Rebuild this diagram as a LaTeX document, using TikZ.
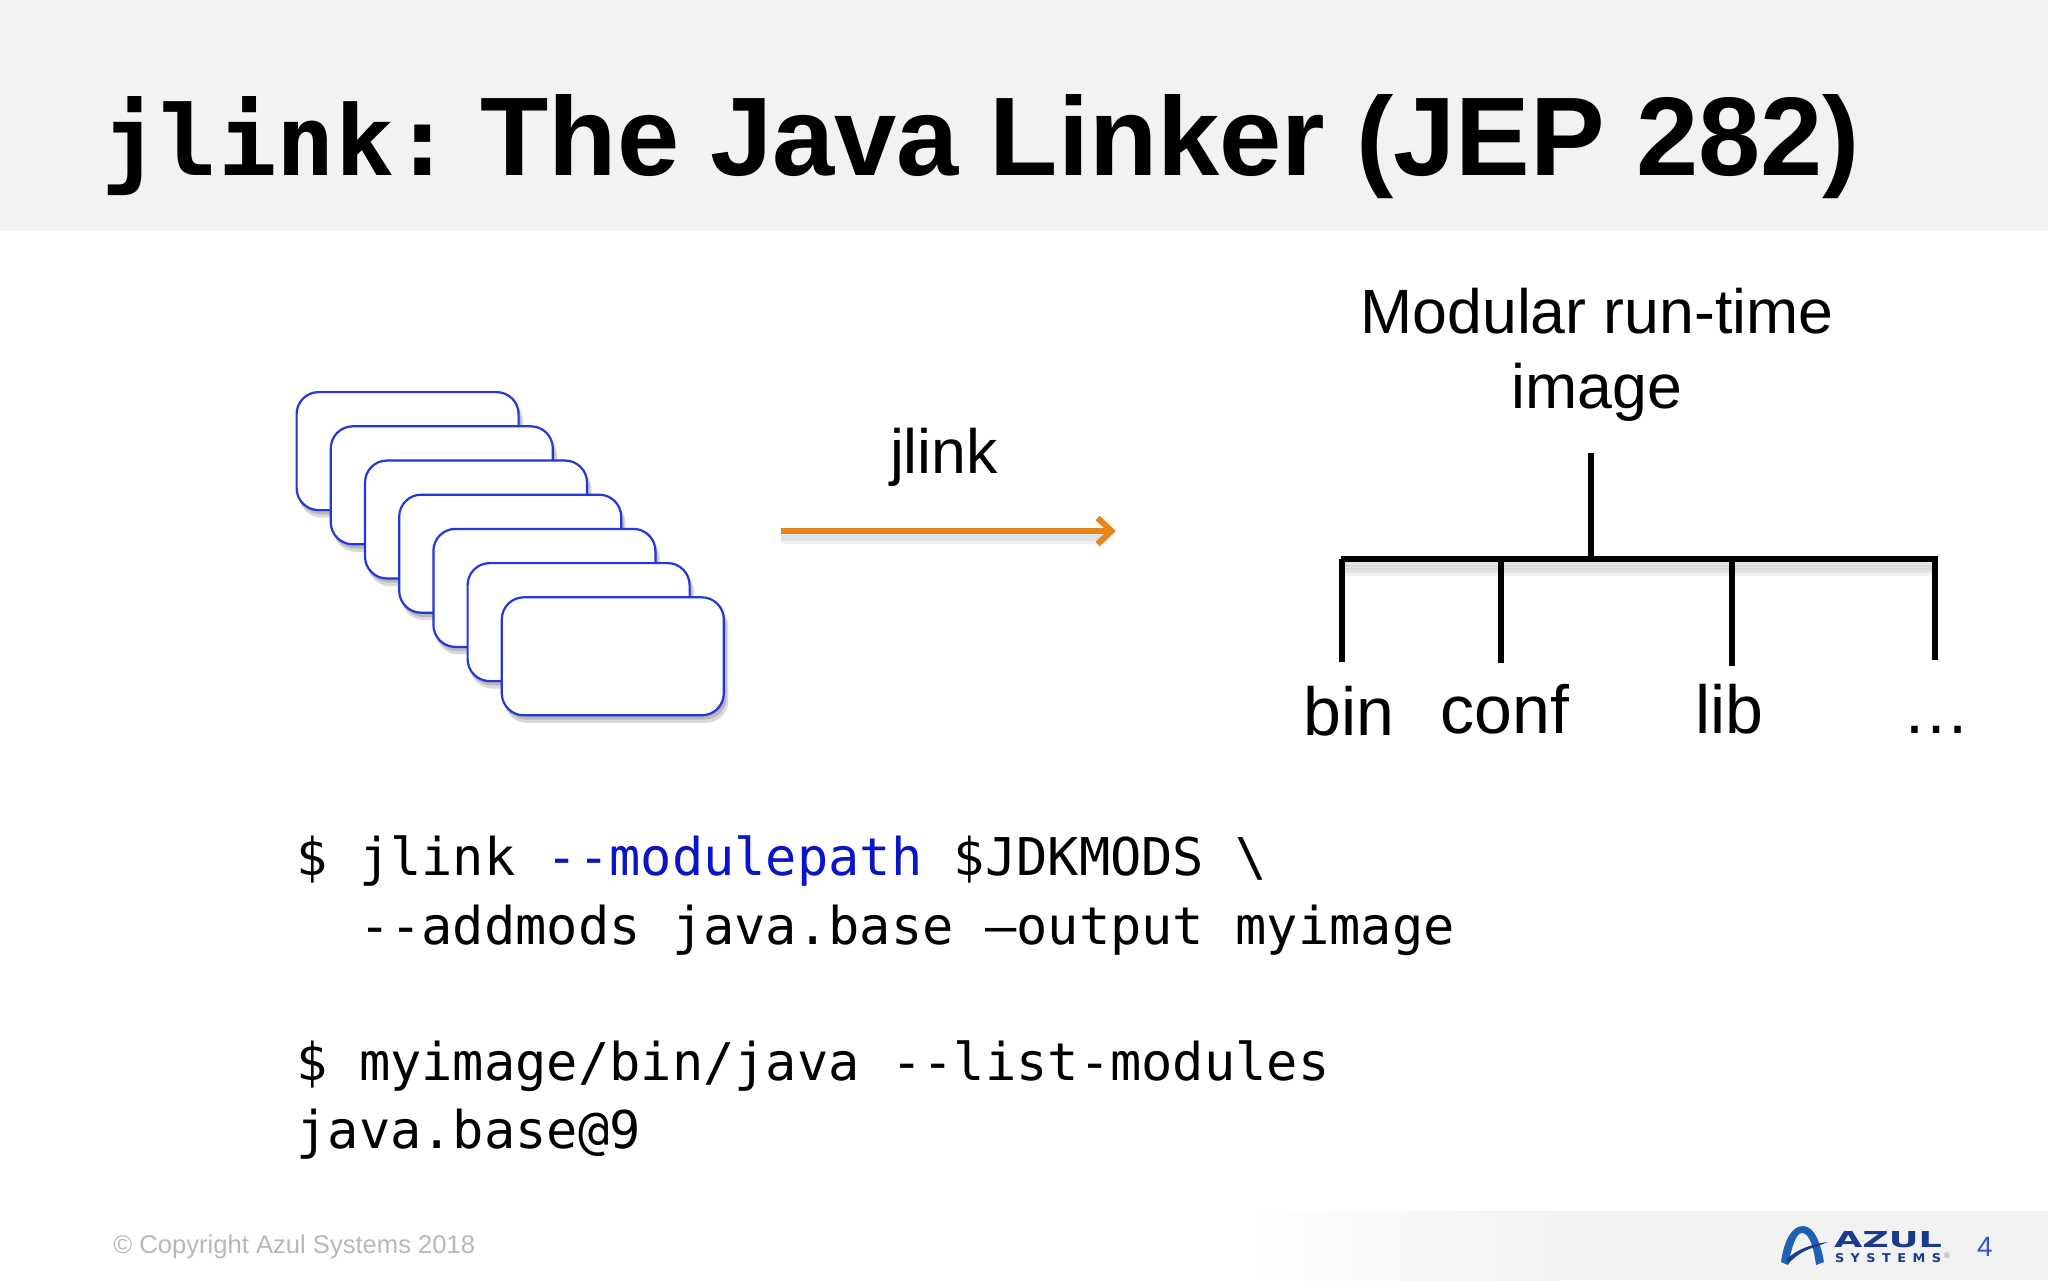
\documentclass[tikz,border=0pt]{standalone}
\usepackage{fontspec}
\setmainfont{Liberation Sans}
\newfontfamily\codefont{DejaVu Sans Mono}
\newfontfamily\logofont{DejaVu Sans}
\usetikzlibrary{arrows.meta}
\definecolor{bandgrey}{HTML}{F2F2F2}
\definecolor{boxblue}{HTML}{2437D8}
\definecolor{arroworange}{HTML}{E8851A}
\definecolor{codeblue}{HTML}{0A14C8}
\definecolor{logoblue}{HTML}{1F62B5}
\definecolor{logonavy}{HTML}{1B3A8C}
\definecolor{pagenum}{HTML}{3355D0}
\tikzset{
 modbox/.style={draw=boxblue,line width=1.1pt,fill=white,rounded corners=11pt,minimum width=111pt,minimum height=59pt,inner sep=0pt,anchor=north west},
 softshade/.style={fill=black,opacity=.15,rounded corners=11pt},
 treeline/.style={draw=black,line width=3pt},
 treeshade/.style={draw=black,opacity=.05},
 code/.style={font=\codefont\fontsize{26}{30}\selectfont,anchor=base west,inner sep=0pt},
 big/.style={font=\fontsize{31.3}{36}\selectfont,anchor=base,inner sep=0pt},
 leaf/.style={font=\fontsize{34}{38}\selectfont,anchor=base,inner sep=0pt},
}
\begin{document}
\begin{tikzpicture}[x=0.5pt,y=-0.5pt]
\useasboundingbox (0,0) rectangle (2048,1280);
\fill[white] (0,0) rectangle (2048,1280);
\fill[bandgrey] (0,0) rectangle (2048,231);
\node[anchor=base west,inner sep=0pt,font=\codefont\bfseries\fontsize{48.6}{52}\selectfont] (t1) at (101,175) {jlink:};
\node[anchor=base west,inner sep=0pt,font=\bfseries\fontsize{55.9}{60}\selectfont] (t2) at (480,175) {The Java Linker (JEP 282)};
% boxes, each with a soft shadow below it
\foreach \i in {0,...,6}{
 \pgfmathsetmacro{\bx}{295.5+34.2*\i}
 \pgfmathsetmacro{\by}{391+34.2*\i}
 \foreach \g in {0,3,6}{
  \fill[softshade] ({\bx+2+\g*0.3},{\by+8}) rectangle ({\bx+224+\g*0.6},{\by+120+\g*1.1});
 }
 \node[modbox] (b\i) at (\bx,\by) {};
}
% arrow
\node[big] (jl) at (944,473) {jlink};
\coordinate (as) at (781,531);
\coordinate (ae) at (1116,531);
\foreach \g in {4,7,10}{
 \draw[black,opacity=.06,line width=3pt] (781,{531+\g}) -- (1108,{531+\g});
}
\draw[line width=3.4pt,arroworange,-{Straight Barb[length=7pt,width=13pt,line width=3pt]}] (as) -- (ae);
% tree
\node[big] (root) at (1597,333) {Modular run-time};
\node[big] (root2) at (1597,408) {image};
\coordinate (s) at (1591,453);
\coordinate (j) at (1591,559);
\coordinate (bl) at (1341,559);
\coordinate (br) at (1938,559);
\coordinate (a1) at (1342,559); \coordinate (a2) at (1501,559); \coordinate (a3) at (1732,559); \coordinate (a4) at (1935,559);
\coordinate (e1) at (1342,662); \coordinate (e2) at (1501,663); \coordinate (e3) at (1732,666); \coordinate (e4) at (1935,660);
\foreach \g in {4,7,10,13}{
 \draw[treeshade,line width=4pt] (1344,{559+\g}) -- (1936,{559+\g});
}
\draw[treeline] (s) -- (j);
\draw[treeline] (bl) -- (br);
\draw[treeline] (a1) -- (e1);
\draw[treeline] (a2) -- (e2);
\draw[treeline] (a3) -- (e3);
\draw[treeline] (a4) -- (e4);
\node[leaf] (n1) at (1349,735) {bin};
\node[leaf] (n2) at (1505,733) {conf};
\node[leaf] (n3) at (1729,733) {lib};
\node[leaf] (n4) at (1936,733) {…};
% code
\node[code] (c1) at (296,875) {\$ jlink \textcolor{codeblue}{--modulepath} \$JDKMODS \textbackslash};
\node[code] (c2) at (296,944) {\phantom{\$ }--addmods java.base –output myimage};
\node[code] (c3) at (296,1080) {\$ myimage/bin/java --list-modules};
\node[code] (c4) at (296,1148) {java.base@9};
% footer
\shade[left color=white,right color=bandgrey] (1250,1211) rectangle (1560,1280);
\fill[bandgrey] (1560,1211) rectangle (2048,1280);
\node[anchor=base west,inner sep=0pt,text=black!28,font=\fontsize{12.8}{16}\selectfont] (cp) at (113,1253) {© Copyright Azul Systems 2018};
% logo
\fill[logoblue] (1781,1262) .. controls (1784,1240) and (1792,1226) .. (1803,1226) .. controls (1815,1226) and (1821,1245) .. (1824,1262) -- (1816,1265) .. controls (1814,1250) and (1810,1233) .. (1802,1233) .. controls (1796,1233) and (1792,1246) .. (1788,1265) -- cycle;
\fill[logonavy] (1787,1259) .. controls (1797,1249) and (1812,1244) .. (1828,1242) -- (1815,1247) .. controls (1805,1250) and (1796,1255) .. (1788,1264) -- cycle;
\node[inner sep=0pt,text=logonavy] (az) at (1888,1240) {\resizebox{54pt}{8pt}{\logofont\bfseries AZUL}};
\node[inner sep=0pt,text=logonavy] (sy) at (1888,1258) {\resizebox{53pt}{4.5pt}{\logofont\bfseries S\,\,\,Y\,\,\,S\,\,\,T\,\,\,E\,\,\,M\,\,\,S}};
\node[inner sep=0pt,text=black!45,font=\fontsize{4}{5}\selectfont] (rg) at (1947,1256) {®};
\node[inner sep=0pt,text=pagenum,font=\fontsize{14}{16}\selectfont] (pg) at (1985,1247) {4};
\end{tikzpicture}
\end{document}
